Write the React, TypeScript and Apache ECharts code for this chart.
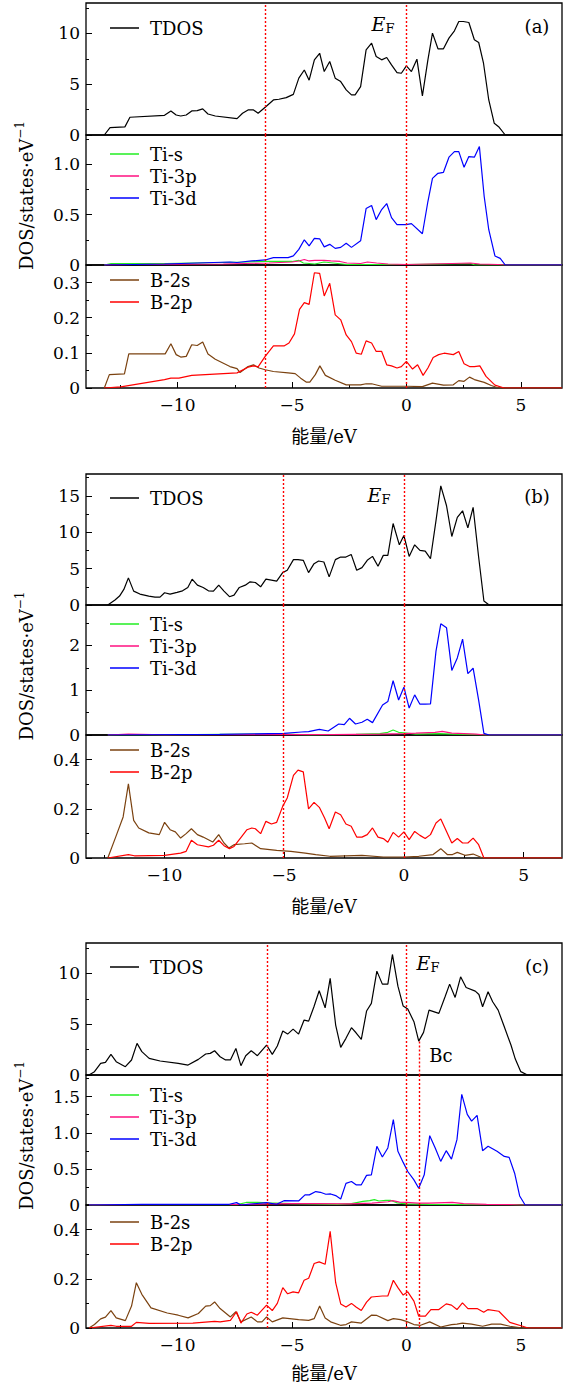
import React, { useEffect, useRef } from "react";
import * as echarts from "echarts";

type Pt = [number, number];

// ---------- axes / ticks ----------
const xRangeA = [-14, 6.8];
const xRangeB = [-13.27, 6.6];
const xRangeC = [-14, 6.8];
const xTicks = [-10, -5, 0, 5];
const xMinorTicks = [-12.5, -7.5, -2.5, 2.5];

const yMaxA = [13, 1.29, 0.35];
const yMaxB = [18, 2.9, 0.5];
const yMaxC = [13, 1.8, 0.5];
const yTicksA = [[0, 5, 10], [0, 0.5, 1.0], [0, 0.1, 0.2, 0.3]];
const yTicksB = [[0, 5, 10, 15], [0, 1, 2], [0, 0.2, 0.4]];
const yTicksC = [[0, 5, 10], [0, 0.5, 1.0, 1.5], [0, 0.2, 0.4]];
const yMinorA = [[2.5, 7.5, 12.5], [0.25, 0.75, 1.25], [0.05, 0.15, 0.25]];
const yMinorB = [[2.5, 7.5, 12.5, 17.5], [0.5, 1.5, 2.5], [0.1, 0.3]];
const yMinorC = [[2.5, 7.5, 12.5], [0.25, 0.75, 1.25, 1.75], [0.1, 0.3]];
const yDecA = [0, 1, 1];
const yDecB = [0, 0, 1];
const yDecC = [0, 1, 1];

// red dotted reference lines (eV)
const vLinesA = [-6.15, 0];
const vLinesB = [-5.05, 0];
const vLinesC = [-6.1, 0, 0.55];
const bcLineTopC = 3.3; // the 0.55 eV line starts at this TDOS value in (c)

// ---------- panel (a) ----------
const tdosA: Pt[] = [[-13.2,0],[-12.95,0.72],[-12.3,0.8],[-12.08,1.75],[-10.57,1.94],[-10.29,2.37],[-10.06,1.97],[-9.86,1.87],[-9.62,1.97],[-9.38,2.37],[-9.14,2.4],[-8.9,2.57],[-8.67,2.07],[-8.35,1.87],[-7.4,1.61],[-7.16,2.14],[-6.92,2.47],[-6.68,2.47],[-6.48,2.14],[-6.17,2.73],[-5.81,3.45],[-5.57,3.52],[-5.25,3.68],[-4.94,4.0],[-4.7,5.6],[-4.46,6.4],[-4.25,5.4],[-4.02,7.4],[-3.79,8.05],[-3.59,6.25],[-3.35,7.24],[-3.11,5.6],[-2.87,5.26],[-2.63,4.44],[-2.4,3.95],[-2.24,3.95],[-2.0,4.77],[-1.76,8.39],[-1.52,9.05],[-1.32,7.73],[-1.08,7.4],[-0.86,7.63],[-0.65,6.9],[-0.41,6.15],[-0.22,6.08],[0,6.8],[0.22,6.25],[0.46,7.47],[0.7,3.85],[0.94,7.4],[1.14,10.03],[1.38,8.49],[1.62,8.49],[1.86,9.54],[2.1,10.26],[2.29,11.18],[2.49,11.18],[2.73,11.08],[2.97,9.38],[3.16,9.11],[3.37,7.07],[3.6,3.45],[3.84,1.15],[4.03,0.82],[4.32,0],[6.8,0]];
const tiSA: Pt[] = [[-13.2,0],[-12.9,0.015],[-10.5,0.015],[-7,0.03],[-6.17,0.035],[-5,0.035],[-4.7,0.045],[-4.5,0.02],[-4.0,0.01],[-3.6,0.03],[-3.2,0.02],[-2.6,0.005],[0,0.005],[1.5,0.01],[2.8,0.015],[3.0,0],[6.8,0]];
const tiPA: Pt[] = [[-13.2,0],[-12,0.005],[-8,0.01],[-6,0.02],[-5,0.03],[-4.7,0.04],[-4.46,0.055],[-4.25,0.04],[-4.0,0.045],[-3.6,0.045],[-3.3,0.04],[-2.9,0.035],[-2.6,0.02],[-2.0,0.015],[-1.7,0.03],[-1.3,0.02],[-0.8,0.01],[0,0.005],[1,0.01],[2,0.015],[2.8,0.02],[3.2,0.01],[4,0.005],[4.3,0],[6.8,0]];
const tiDA: Pt[] = [[-13.2,0],[-10.57,0.01],[-7.71,0.03],[-7.4,0.025],[-6.76,0.04],[-6.17,0.05],[-5.81,0.073],[-5.17,0.073],[-4.94,0.09],[-4.7,0.155],[-4.46,0.25],[-4.25,0.19],[-4.02,0.265],[-3.79,0.26],[-3.59,0.18],[-3.35,0.205],[-3.11,0.165],[-2.87,0.175],[-2.63,0.215],[-2.4,0.175],[-2.0,0.24],[-1.76,0.56],[-1.52,0.59],[-1.32,0.45],[-1.08,0.55],[-0.86,0.61],[-0.65,0.47],[-0.41,0.4],[0,0.4],[0.22,0.41],[0.7,0.31],[0.94,0.63],[1.14,0.86],[1.38,0.91],[1.62,0.92],[1.86,1.07],[2.1,1.125],[2.29,1.125],[2.52,0.97],[2.73,1.076],[2.97,1.07],[3.19,1.175],[3.4,0.68],[3.6,0.35],[3.87,0.09],[4.1,0.066],[4.32,0],[6.8,0]];
const b2sA: Pt[] = [[-13.2,0],[-12.98,0.038],[-12.32,0.04],[-12.13,0.097],[-10.54,0.097],[-10.29,0.126],[-10.06,0.095],[-9.86,0.088],[-9.62,0.09],[-9.38,0.123],[-9.14,0.121],[-8.9,0.131],[-8.67,0.097],[-8.35,0.082],[-7.71,0.061],[-7.4,0.055],[-7.27,0.044],[-6.92,0.061],[-6.68,0.066],[-6.44,0.057],[-6.17,0.052],[-5.81,0.047],[-5.17,0.043],[-4.86,0.041],[-4.62,0.028],[-4.38,0.017],[-4.22,0.017],[-3.98,0.038],[-3.78,0.063],[-3.54,0.036],[-3.11,0.022],[-2.63,0.009],[-2.0,0.009],[-1.76,0.012],[-1.52,0.012],[-1.08,0.005],[0,0.005],[0.7,0.004],[1.14,0.014],[1.62,0.008],[2.05,0.009],[2.29,0.021],[2.52,0.019],[2.76,0.031],[2.97,0.024],[3.4,0.016],[3.71,0.007],[4.03,0],[6.8,0]];
const b2pA: Pt[] = [[-13.2,0],[-12.48,0.003],[-10.57,0.024],[-10.29,0.028],[-9.94,0.028],[-9.38,0.036],[-7.4,0.043],[-6.92,0.059],[-6.68,0.063],[-6.48,0.06],[-6.17,0.09],[-5.81,0.12],[-5.33,0.12],[-5.13,0.128],[-4.89,0.154],[-4.67,0.224],[-4.46,0.243],[-4.25,0.238],[-4.02,0.328],[-3.79,0.326],[-3.59,0.262],[-3.35,0.298],[-3.11,0.208],[-2.87,0.194],[-2.63,0.151],[-2.4,0.132],[-2.19,0.099],[-1.97,0.096],[-1.76,0.134],[-1.52,0.128],[-1.32,0.104],[-1.08,0.104],[-0.86,0.066],[-0.65,0.063],[-0.41,0.057],[-0.22,0.061],[0,0.076],[0.27,0.054],[0.49,0.066],[0.73,0.036],[0.94,0.057],[1.17,0.087],[1.41,0.095],[1.65,0.099],[2.05,0.095],[2.29,0.104],[2.52,0.069],[2.76,0.061],[2.97,0.061],[3.21,0.063],[3.48,0.033],[3.87,0.008],[4.27,0],[6.8,0]];

// ---------- panel (b) ----------
const tdosB: Pt[] = [[-12.36,0],[-12.06,0.68],[-11.87,1.23],[-11.69,2.14],[-11.5,3.73],[-11.28,1.91],[-11.02,1.5],[-10.65,1.23],[-10.39,1.09],[-10.18,1.09],[-9.99,1.68],[-9.76,1.5],[-9.47,1.73],[-9.24,1.95],[-9.02,2.41],[-8.84,3.55],[-8.62,2.73],[-8.38,2.41],[-8.16,1.95],[-7.95,1.91],[-7.73,2.73],[-7.51,1.91],[-7.28,1.14],[-7.09,1.36],[-6.87,2.41],[-6.62,2.73],[-6.42,3.18],[-6.2,3.09],[-5.98,2.5],[-5.76,3.55],[-5.53,3.41],[-5.31,3.27],[-5.06,4.45],[-4.87,4.77],[-4.61,6.23],[-4.42,6.23],[-4.2,6.14],[-3.98,4.45],[-3.75,5.68],[-3.56,6.05],[-3.34,5.91],[-3.12,3.86],[-2.86,6.23],[-2.64,6.59],[-2.42,6.59],[-2.2,6.95],[-1.97,4.77],[-1.75,5.14],[-1.53,6.14],[-1.31,6.68],[-1.08,5.32],[-0.86,6.82],[-0.67,6.82],[-0.45,11.2],[-0.19,8.27],[0,9.55],[0.22,6.68],[0.45,8.27],[0.67,7.5],[0.89,7.41],[1.11,6.36],[1.34,11.6],[1.54,16.36],[1.78,13.64],[2.0,9.41],[2.23,12.05],[2.45,12.95],[2.67,10.59],[2.89,13.41],[3.12,6.59],[3.34,0.55],[3.56,0],[6.6,0]];
const tiSB: Pt[] = [[-12.36,0],[-10,0.005],[-6,0.02],[-5,0.02],[-4,0.005],[-3,0.01],[-2,0.015],[-1,0.03],[-0.67,0.06],[-0.45,0.11],[-0.22,0.06],[0,0.05],[0.5,0.02],[1.5,0.03],[2,0.02],[3,0.01],[3.4,0],[6.6,0]];
const tiPB: Pt[] = [[-12.36,0],[-11.5,0.02],[-10,0.005],[-5,0.01],[-3,0.01],[-1,0.02],[0,0.03],[0.5,0.04],[1.3,0.06],[1.6,0.08],[2,0.04],[2.5,0.03],[3,0.02],[3.4,0],[6.6,0]];
const tiDB: Pt[] = [[-12.36,0],[-7.69,0.015],[-5.01,0.037],[-4.27,0.067],[-3.98,0.075],[-3.53,0.127],[-3.16,0.09],[-2.72,0.246],[-2.49,0.231],[-2.27,0.373],[-2.02,0.246],[-1.75,0.284],[-1.53,0.351],[-1.31,0.276],[-0.89,0.67],[-0.67,0.746],[-0.45,1.21],[-0.22,0.78],[0,1.067],[0.22,0.6],[0.45,0.895],[0.67,0.687],[0.89,0.687],[1.11,0.694],[1.34,1.87],[1.54,2.48],[1.78,2.39],[2.0,1.44],[2.23,1.72],[2.45,2.14],[2.67,1.37],[2.89,1.49],[3.12,0.78],[3.34,0.037],[3.56,0],[6.6,0]];
const b2sB: Pt[] = [[-12.36,0],[-12.02,0.088],[-11.72,0.167],[-11.5,0.301],[-11.28,0.153],[-11.07,0.122],[-10.65,0.102],[-10.21,0.095],[-9.99,0.145],[-9.76,0.115],[-9.54,0.106],[-9.32,0.081],[-9.09,0.099],[-8.87,0.119],[-8.62,0.095],[-8.38,0.085],[-7.98,0.065],[-7.73,0.095],[-7.51,0.061],[-7.31,0.041],[-7.09,0.054],[-6.65,0.058],[-6.35,0.061],[-5.98,0.038],[-5.31,0.031],[-4.72,0.027],[-4.12,0.02],[-3.68,0.014],[-3.09,0.007],[-1.75,0.011],[-0.86,0.004],[0,0.004],[0.62,0.007],[1.22,0.014],[1.54,0.038],[1.81,0.014],[2.03,0.014],[2.23,0.023],[2.55,0.011],[2.89,0.016],[3.29,0],[6.6,0]];
const b2pB: Pt[] = [[-12.36,0],[-11.5,0.014],[-11.25,0.009],[-9.99,0.011],[-9.32,0.02],[-9.09,0.027],[-8.87,0.072],[-8.62,0.054],[-8.16,0.045],[-7.95,0.052],[-7.73,0.072],[-7.51,0.05],[-7.28,0.038],[-7.09,0.047],[-6.79,0.085],[-6.55,0.115],[-6.35,0.122],[-6.2,0.119],[-5.98,0.099],[-5.76,0.149],[-5.53,0.138],[-5.31,0.145],[-5.06,0.21],[-4.87,0.244],[-4.61,0.336],[-4.42,0.357],[-4.2,0.35],[-3.98,0.2],[-3.75,0.226],[-3.53,0.206],[-3.31,0.163],[-3.12,0.119],[-2.86,0.187],[-2.64,0.176],[-2.42,0.138],[-2.2,0.129],[-1.97,0.085],[-1.75,0.085],[-1.53,0.095],[-1.31,0.122],[-1.08,0.085],[-0.86,0.079],[-0.67,0.064],[-0.45,0.104],[-0.22,0.085],[0,0.106],[0.22,0.075],[0.45,0.108],[0.67,0.092],[0.89,0.079],[1.11,0.095],[1.34,0.142],[1.54,0.159],[1.78,0.108],[2.0,0.061],[2.23,0.079],[2.45,0.061],[2.67,0.061],[2.89,0.081],[3.12,0.054],[3.34,0],[6.6,0]];

// ---------- panel (c) ----------
const tdosC: Pt[] = [[-13.87,0],[-13.63,0.33],[-13.36,1.15],[-13.15,1.25],[-12.91,2.03],[-12.68,1.31],[-12.28,0.82],[-12.01,1.48],[-11.77,3.11],[-11.56,2.3],[-11.24,1.64],[-10.76,1.38],[-9.97,1.15],[-9.54,0.98],[-9.09,1.54],[-8.77,2.07],[-8.57,2.13],[-8.38,2.39],[-8.14,1.8],[-7.9,1.48],[-7.69,1.48],[-7.45,2.62],[-7.23,0.92],[-7.02,1.9],[-6.78,2.39],[-6.51,1.9],[-6.11,2.95],[-5.86,2.03],[-5.64,2.85],[-5.4,4.33],[-5.19,4.03],[-4.95,4.52],[-4.71,4.03],[-4.47,5.41],[-4.27,5.31],[-4.04,6.72],[-3.81,8.3],[-3.55,6.62],[-3.33,9.51],[-3.09,4.92],[-2.87,2.72],[-2.64,3.61],[-2.4,4.66],[-2.2,4.16],[-1.97,3.51],[-1.74,6.3],[-1.53,7.05],[-1.29,10.23],[-1.05,8.95],[-0.81,8.95],[-0.61,11.87],[-0.37,8.75],[-0.14,6.79],[0.06,6.49],[0.33,5.25],[0.54,3.34],[0.75,4.2],[0.99,6.39],[1.42,6.07],[1.69,7.7],[1.89,8.95],[2.13,7.64],[2.37,9.67],[2.61,8.62],[3.01,8.26],[3.17,7.93],[3.33,6.72],[3.57,8.2],[3.77,7.21],[4.01,6.39],[4.25,4.92],[4.57,2.95],[4.76,1.57],[5.0,0.33],[5.29,0],[6.8,0]];
const tiSC: Pt[] = [[-13.87,0],[-13,0.005],[-7.4,0.005],[-7,0.035],[-6.5,0.035],[-6.1,0.03],[-5,0.02],[-3,0.01],[-2.4,0.02],[-1.9,0.05],[-1.6,0.06],[-1.4,0.075],[-1.2,0.055],[-0.9,0.065],[-0.7,0.065],[-0.4,0.03],[0,0.015],[1,0.01],[3,0.005],[4.5,0.005],[5,0],[6.8,0]];
const tiPC: Pt[] = [[-13.87,0],[-12,0.005],[-7,0.01],[-6,0.015],[-5,0.02],[-4,0.02],[-2.5,0.015],[-1.5,0.025],[-0.8,0.045],[-0.6,0.06],[-0.3,0.04],[0,0.035],[0.5,0.025],[1,0.025],[2,0.035],[2.5,0.02],[3.5,0.01],[4.5,0.005],[5,0],[6.8,0]];
const tiDC: Pt[] = [[-13.87,0],[-11.56,0.01],[-7.74,0.01],[-7.42,0.033],[-7.23,0],[-6.78,0.014],[-6.11,0.033],[-5.67,0.01],[-5.35,0.06],[-4.71,0.056],[-4.43,0.14],[-4.24,0.14],[-3.96,0.186],[-3.76,0.176],[-3.52,0.149],[-3.31,0.153],[-3.09,0.13],[-2.87,0.084],[-2.64,0.3],[-2.4,0.325],[-2.2,0.28],[-1.97,0.28],[-1.74,0.41],[-1.53,0.418],[-1.29,0.813],[-1.05,0.664],[-0.81,0.79],[-0.57,1.184],[-0.37,0.743],[-0.14,0.59],[0.06,0.464],[0.33,0.348],[0.54,0.232],[0.78,0.418],[1.02,0.96],[1.26,0.79],[1.5,0.604],[1.74,0.752],[1.97,0.636],[2.21,0.905],[2.42,1.533],[2.66,1.254],[2.85,1.161],[3.09,1.24],[3.33,0.752],[3.57,0.813],[3.96,0.743],[4.28,0.673],[4.49,0.66],[4.73,0.44],[4.95,0.125],[5.19,0],[6.8,0]];
const b2sC: Pt[] = [[-13.87,0],[-13.63,0.014],[-13.36,0.037],[-13.15,0.044],[-12.91,0.071],[-12.68,0.041],[-12.28,0.03],[-12.01,0.089],[-11.8,0.184],[-11.56,0.137],[-11.16,0.082],[-10.45,0.061],[-9.97,0.052],[-9.54,0.041],[-9.09,0.059],[-8.77,0.089],[-8.57,0.091],[-8.38,0.106],[-8.14,0.079],[-7.69,0.045],[-7.45,0.066],[-7.23,0.025],[-6.78,0.045],[-6.51,0.025],[-6.31,0.025],[-6.11,0.045],[-5.86,0.025],[-5.4,0.041],[-4.71,0.034],[-4.27,0.031],[-4.03,0.038],[-3.79,0.089],[-3.55,0.041],[-3.31,0.025],[-2.88,0.011],[-2.64,0.014],[-2.4,0.025],[-1.97,0.02],[-1.53,0.052],[-1.29,0.051],[-0.81,0.03],[-0.57,0.038],[-0.25,0.034],[0,0.027],[0.33,0.014],[0.62,0.011],[1.02,0.025],[1.5,0.004],[1.97,0.014],[2.21,0.016],[2.45,0.02],[2.85,0.016],[3.33,0.007],[3.73,0.016],[4.12,0.016],[4.52,0.007],[5.08,0],[6.8,0]];
const b2pC: Pt[] = [[-13.87,0],[-12.91,0.011],[-12.68,0.007],[-12.01,0.007],[-11.8,0.023],[-11.24,0.019],[-9.33,0.02],[-8.38,0.027],[-8.14,0.025],[-7.69,0.031],[-7.42,0.066],[-7.23,0.02],[-6.97,0.057],[-6.78,0.064],[-6.51,0.052],[-6.11,0.093],[-5.86,0.071],[-5.64,0.1],[-5.4,0.164],[-5.19,0.139],[-4.95,0.147],[-4.71,0.143],[-4.47,0.194],[-4.27,0.202],[-4.03,0.262],[-3.81,0.269],[-3.55,0.259],[-3.33,0.393],[-3.09,0.184],[-2.87,0.098],[-2.64,0.085],[-2.4,0.1],[-2.2,0.085],[-1.97,0.071],[-1.74,0.105],[-1.53,0.126],[-1.05,0.13],[-0.81,0.13],[-0.57,0.194],[-0.37,0.164],[-0.14,0.134],[0.06,0.147],[0.33,0.109],[0.54,0.048],[0.83,0.048],[1.07,0.075],[1.42,0.075],[1.74,0.098],[1.97,0.093],[2.21,0.075],[2.45,0.102],[2.69,0.079],[3.09,0.079],[3.38,0.064],[3.57,0.075],[4.04,0.068],[4.52,0.023],[5.08,0.007],[5.32,0],[6.8,0]];

// ---------- styling ----------
const FONT = "'DejaVu Serif', 'Noto Sans CJK SC', serif";
const COLORS: Record<string, string> = {
  TDOS: "#000000",
  "Ti-s": "#22ee22",
  "Ti-3p": "#ff1080",
  "Ti-3d": "#0000ff",
  "B-2s": "#7b4210",
  "B-2p": "#ff0000",
};

const LEFT = 86;
const WIDTH = 476;

type Sub = { max: number; ticks: number[]; minor: number[]; dec: number; series: { name: string; data: Pt[] }[]; legendTop: number };
type Panel = { x: number[]; bounds: number[]; vlines: number[]; label: string; subs: Sub[]; ef: [number, number]; labelY: number; titleY: number };

const panels: Panel[] = [
  {
    x: xRangeA, bounds: [3, 135, 265, 388], vlines: vLinesA, label: "(a)", ef: [383, 24], labelY: 26, titleY: 436,
    subs: [
      { max: yMaxA[0], ticks: yTicksA[0], minor: yMinorA[0], dec: yDecA[0], legendTop: 17, series: [{ name: "TDOS", data: tdosA }] },
      { max: yMaxA[1], ticks: yTicksA[1], minor: yMinorA[1], dec: yDecA[1], legendTop: 143, series: [{ name: "Ti-s", data: tiSA }, { name: "Ti-3p", data: tiPA }, { name: "Ti-3d", data: tiDA }] },
      { max: yMaxA[2], ticks: yTicksA[2], minor: yMinorA[2], dec: yDecA[2], legendTop: 269, series: [{ name: "B-2s", data: b2sA }, { name: "B-2p", data: b2pA }] },
    ],
  },
  {
    x: xRangeB, bounds: [474, 605, 735, 858], vlines: vLinesB, label: "(b)", ef: [379, 495], labelY: 496, titleY: 906,
    subs: [
      { max: yMaxB[0], ticks: yTicksB[0], minor: yMinorB[0], dec: yDecB[0], legendTop: 487, series: [{ name: "TDOS", data: tdosB }] },
      { max: yMaxB[1], ticks: yTicksB[1], minor: yMinorB[1], dec: yDecB[1], legendTop: 613, series: [{ name: "Ti-s", data: tiSB }, { name: "Ti-3p", data: tiPB }, { name: "Ti-3d", data: tiDB }] },
      { max: yMaxB[2], ticks: yTicksB[2], minor: yMinorB[2], dec: yDecB[2], legendTop: 739, series: [{ name: "B-2s", data: b2sB }, { name: "B-2p", data: b2pB }] },
    ],
  },
  {
    x: xRangeC, bounds: [943, 1075, 1205, 1328], vlines: vLinesC, label: "(c)", ef: [428, 963], labelY: 966, titleY: 1373,
    subs: [
      { max: yMaxC[0], ticks: yTicksC[0], minor: yMinorC[0], dec: yDecC[0], legendTop: 956, series: [{ name: "TDOS", data: tdosC }] },
      { max: yMaxC[1], ticks: yTicksC[1], minor: yMinorC[1], dec: yDecC[1], legendTop: 1084, series: [{ name: "Ti-s", data: tiSC }, { name: "Ti-3p", data: tiPC }, { name: "Ti-3d", data: tiDC }] },
      { max: yMaxC[2], ticks: yTicksC[2], minor: yMinorC[2], dec: yDecC[2], legendTop: 1211, series: [{ name: "B-2s", data: b2sC }, { name: "B-2p", data: b2pC }] },
    ],
  },
];

const fmtX = (v: number) => (v < 0 ? "\u2212" + Math.abs(v) : String(v));

function buildOption() {
  const grid: any[] = [];
  const xAxis: any[] = [];
  const yAxis: any[] = [];
  const series: any[] = [];
  const legend: any[] = [];
  const graphic: any[] = [];
  const tickLine = { color: "#000", width: 1 };

  panels.forEach((p, pi) => {
    p.subs.forEach((s, si) => {
      const top = p.bounds[si];
      const height = p.bounds[si + 1] - p.bounds[si];
      const gi = grid.length;
      grid.push({ left: LEFT, width: WIDTH, top, height, show: true, borderColor: "#000", borderWidth: 1.3, backgroundColor: "transparent" });
      const isBottom = si === 2;
      const xi = xAxis.length;
      xAxis.push({
        type: "value", gridIndex: gi, position: "bottom", min: p.x[0], max: p.x[1],
        axisLine: { show: false, onZero: false }, splitLine: { show: false },
        axisTick: isBottom ? { show: true, inside: true, length: 6, customValues: xTicks, lineStyle: tickLine } : { show: false },
        axisLabel: isBottom ? { show: true, customValues: xTicks, formatter: fmtX, fontFamily: FONT, fontSize: 17, color: "#000", margin: 8 } : { show: false },
      });
      if (isBottom) {
        xAxis.push({
          type: "value", gridIndex: gi, position: "bottom", min: p.x[0], max: p.x[1],
          axisLine: { show: false, onZero: false }, splitLine: { show: false }, axisLabel: { show: false },
          axisTick: { show: true, inside: true, length: 3, customValues: xMinorTicks.filter((v) => v > p.x[0] && v < p.x[1]), lineStyle: tickLine },
        });
      }
      const yi = yAxis.length;
      const dec = s.dec;
      yAxis.push({
        type: "value", gridIndex: gi, position: "left", min: 0, max: s.max,
        axisLine: { show: false, onZero: false }, splitLine: { show: false },
        axisTick: { show: true, inside: true, length: 6, customValues: s.ticks, lineStyle: tickLine },
        axisLabel: { customValues: s.ticks, formatter: (v: number) => (v === 0 ? "0" : v.toFixed(dec)), fontFamily: FONT, fontSize: 17, color: "#000", margin: 6 },
      });
      yAxis.push({
        type: "value", gridIndex: gi, position: "left", min: 0, max: s.max,
        axisLine: { show: false, onZero: false }, splitLine: { show: false }, axisLabel: { show: false },
        axisTick: { show: true, inside: true, length: 3, customValues: s.minor.filter((v) => v < s.max), lineStyle: tickLine },
      });

      s.series.forEach((ser, k) => {
        const item: any = {
          type: "line", name: ser.name, xAxisIndex: xi, yAxisIndex: yi, data: ser.data,
          symbol: "none", showSymbol: false, silent: true, z: 2 + k,
          color: COLORS[ser.name],
          lineStyle: { color: COLORS[ser.name], width: 1.2 },
          itemStyle: { color: COLORS[ser.name] },
        };
        if (k === 0) {
          const ml: any[] = [];
          p.vlines.forEach((v) => {
            if (pi === 2 && si === 0 && v === vLinesC[2]) {
              ml.push([{ coord: [v, bcLineTopC] }, { coord: [v, 0] }]);
            } else {
              ml.push({ xAxis: v });
            }
          });
          item.markLine = {
            silent: true, symbol: ["none", "none"], label: { show: false }, z: 10,
            lineStyle: { color: "#ff0000", type: [2, 2], width: 1.4 },
            data: ml,
          };
        }
        series.push(item);
      });

      legend.push({
        data: s.series.map((x) => x.name), left: 110, top: s.legendTop, orient: "vertical",
        icon: "rect", itemWidth: 29, itemHeight: 1.5, itemGap: 0, padding: 0, selectedMode: false,
        textStyle: { fontFamily: FONT, fontSize: 18, color: "#000", lineHeight: 22, padding: [0, 0, 0, 6] },
      });
    });

    const mid = (p.bounds[0] + p.bounds[3]) / 2;
    graphic.push({
      type: "text", x: 26, y: mid, rotation: Math.PI / 2,
      style: {
        text: "{m|DOS/states\u00b7eV}{u|\u22121}", align: "center", verticalAlign: "middle",
        rich: {
          m: { fontFamily: FONT, fontSize: 18, fill: "#000", lineHeight: 24 },
          u: { fontFamily: FONT, fontSize: 12, fill: "#000", verticalAlign: "top", lineHeight: 24 },
        },
      },
    });
    graphic.push({
      type: "text", x: 324, y: p.titleY,
      style: { text: "能量/eV", fontFamily: FONT, fontSize: 18, fill: "#000", align: "center", verticalAlign: "middle" },
    });
    graphic.push({
      type: "text", x: 537, y: p.labelY,
      style: { text: p.label, fontFamily: FONT, fontSize: 18, fill: "#000", align: "center", verticalAlign: "middle" },
    });
    graphic.push({
      type: "text", x: p.ef[0], y: p.ef[1],
      style: {
        text: "{i|E}{s|F}", align: "center", verticalAlign: "middle",
        rich: {
          i: { fontFamily: FONT, fontSize: 19, fontStyle: "italic", fill: "#000", lineHeight: 22 },
          s: { fontFamily: FONT, fontSize: 13, fill: "#000", verticalAlign: "bottom", lineHeight: 22 },
        },
      },
    });
  });

  graphic.push({
    type: "text", x: 441, y: 1055,
    style: { text: "Bc", fontFamily: FONT, fontSize: 18, fill: "#000", align: "center", verticalAlign: "middle" },
  });

  return {
    animation: false,
    backgroundColor: "#ffffff",
    grid, xAxis, yAxis, series, legend, graphic,
  };
}

export default function App() {
  const ref = useRef<HTMLDivElement>(null);
  useEffect(() => {
    if (!ref.current) return;
    const chart = echarts.init(ref.current, undefined, { renderer: "svg" });
    chart.setOption(buildOption() as any);
    return () => chart.dispose();
  }, []);
  return <div ref={ref} style={{ position: "absolute", left: 0, top: 0, width: 566, height: 1384 }} />;
}
